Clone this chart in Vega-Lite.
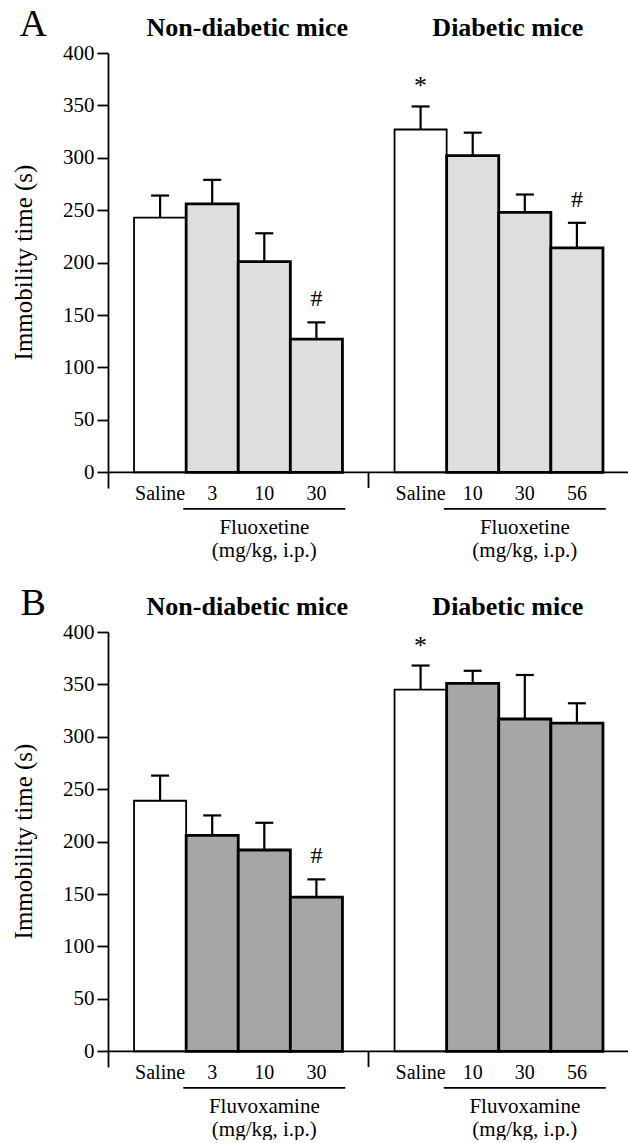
{
  "$schema": "https://vega.github.io/schema/vega-lite/v6.json",
  "background": "white",
  "padding": {"left": 11, "top": 5, "right": 0, "bottom": 0},
  "spacing": 23,
  "config": {
    "font": "Liberation Serif",
    "view": {"stroke": null},
    "axis": {"labelFont": "Liberation Serif", "titleFont": "Liberation Serif", "labelColor": "black", "titleColor": "black", "domainColor": "black", "tickColor": "black", "grid": false},
    "text": {"font": "Liberation Serif", "color": "black"}
  },
  "datasets": {
    "bars": [
      {"panel": "A", "group": "Non-diabetic", "treatment": "Saline", "key": "ND Saline", "mean": 243, "upper": 264, "sig": ""},
      {"panel": "A", "group": "Non-diabetic", "treatment": "Fluoxetine", "key": "ND 3", "mean": 256, "upper": 279, "sig": ""},
      {"panel": "A", "group": "Non-diabetic", "treatment": "Fluoxetine", "key": "ND 10", "mean": 201, "upper": 228, "sig": ""},
      {"panel": "A", "group": "Non-diabetic", "treatment": "Fluoxetine", "key": "ND 30", "mean": 127, "upper": 143, "sig": "#"},
      {"panel": "A", "group": "Diabetic", "treatment": "Saline", "key": "D Saline", "mean": 327, "upper": 349, "sig": "*"},
      {"panel": "A", "group": "Diabetic", "treatment": "Fluoxetine", "key": "D 10", "mean": 302, "upper": 324, "sig": ""},
      {"panel": "A", "group": "Diabetic", "treatment": "Fluoxetine", "key": "D 30", "mean": 248, "upper": 265, "sig": ""},
      {"panel": "A", "group": "Diabetic", "treatment": "Fluoxetine", "key": "D 56", "mean": 214, "upper": 238, "sig": "#"},
      {"panel": "B", "group": "Non-diabetic", "treatment": "Saline", "key": "ND Saline", "mean": 239, "upper": 263, "sig": ""},
      {"panel": "B", "group": "Non-diabetic", "treatment": "Fluvoxamine", "key": "ND 3", "mean": 206, "upper": 225, "sig": ""},
      {"panel": "B", "group": "Non-diabetic", "treatment": "Fluvoxamine", "key": "ND 10", "mean": 192, "upper": 218, "sig": ""},
      {"panel": "B", "group": "Non-diabetic", "treatment": "Fluvoxamine", "key": "ND 30", "mean": 147, "upper": 164, "sig": "#"},
      {"panel": "B", "group": "Diabetic", "treatment": "Saline", "key": "D Saline", "mean": 345, "upper": 368, "sig": "*"},
      {"panel": "B", "group": "Diabetic", "treatment": "Fluvoxamine", "key": "D 10", "mean": 351, "upper": 363, "sig": ""},
      {"panel": "B", "group": "Diabetic", "treatment": "Fluvoxamine", "key": "D 30", "mean": 317, "upper": 359, "sig": ""},
      {"panel": "B", "group": "Diabetic", "treatment": "Fluvoxamine", "key": "D 56", "mean": 313, "upper": 332, "sig": ""}
    ],
    "groups": [
      {"panel": "A", "title": "Non-diabetic mice", "drug": "Fluoxetine", "unit": "(mg/kg, i.p.)", "center": "ND 10"},
      {"panel": "A", "title": "Diabetic mice", "drug": "Fluoxetine", "unit": "(mg/kg, i.p.)", "center": "D 30"},
      {"panel": "B", "title": "Non-diabetic mice", "drug": "Fluvoxamine", "unit": "(mg/kg, i.p.)", "center": "ND 10"},
      {"panel": "B", "title": "Diabetic mice", "drug": "Fluvoxamine", "unit": "(mg/kg, i.p.)", "center": "D 30"}
    ]
  },
  "vconcat": [
    {
      "width": 521,
      "height": 435,
      "layer": [
        {
          "data": {"name": "bars"},
          "transform": [{"filter": "datum.panel === 'A'"}],
          "mark": {"type": "bar", "stroke": "black"},
          "encoding": {
            "x": {"field": "key", "type": "nominal", "scale": {"type": "band", "domain": ["ND Saline", "ND 3", "ND 10", "ND 30", "gap", "D Saline", "D 10", "D 30", "D 56"], "paddingInner": 0, "paddingOuter": 0.5}, "axis": {"title": null, "domain": false, "ticks": false, "labelAngle": 0, "labelFont": "Liberation Serif", "labelFontSize": 20, "labelBaseline": "middle", "labelPadding": 5, "labelExpr": "datum.value === 'gap' ? '' : split(datum.value, ' ')[1]"}},
            "y": {"field": "mean", "type": "quantitative", "scale": {"domain": [-15, 400], "nice": false, "zero": false}, "axis": {"title": "Immobility time (s)", "values": [0, 50, 100, 150, 200, 250, 300, 350, 400], "labelFont": "Liberation Serif", "titleFont": "Liberation Serif", "labelFontSize": 21, "titleFontSize": 25, "titleFontWeight": "normal", "titleY": 209, "tickSize": 11, "labelPadding": 3, "titlePadding": 26, "domainWidth": 1.8, "tickWidth": 1.8}},
            "fill": {"field": "treatment", "type": "nominal", "scale": {"domain": ["Saline", "Fluoxetine", "Fluvoxamine"], "range": ["white", "#dedede", "#a6a6a6"]}, "legend": null},
            "strokeWidth": {"condition": {"test": "datum.treatment === 'Saline'", "value": 1.8}, "value": 2.8}
          }
        },
        {
          "data": {"values": [{}]},
          "mark": {"type": "rule", "strokeWidth": 1.8, "color": "black"},
          "encoding": {"y": {"datum": 0, "type": "quantitative"}}
        },
        {
          "data": {"values": [{"key": "gap"}]},
          "mark": {"type": "rule", "strokeWidth": 1.8, "color": "black"},
          "encoding": {"x": {"field": "key", "type": "nominal"}, "y": {"datum": 0, "type": "quantitative"}, "y2": {"datum": -15}}
        },
        {
          "data": {"name": "bars"},
          "transform": [{"filter": "datum.panel === 'A'"}],
          "mark": {"type": "rule", "strokeWidth": 2.2, "color": "black"},
          "encoding": {"x": {"field": "key", "type": "nominal"}, "y": {"field": "mean", "type": "quantitative"}, "y2": {"field": "upper"}}
        },
        {
          "data": {"name": "bars"},
          "transform": [{"filter": "datum.panel === 'A'"}],
          "mark": {"type": "tick", "thickness": 2.2, "size": 18, "color": "black", "opacity": 1},
          "encoding": {"x": {"field": "key", "type": "nominal"}, "y": {"field": "upper", "type": "quantitative"}}
        },
        {
          "data": {"name": "bars"},
          "transform": [{"filter": "datum.panel === 'A' && datum.sig === '*'"}],
          "mark": {"type": "text", "fontSize": 26, "baseline": "alphabetic", "dy": -12},
          "encoding": {"x": {"field": "key", "type": "nominal"}, "y": {"field": "upper", "type": "quantitative"}, "text": {"field": "sig"}}
        },
        {
          "data": {"name": "bars"},
          "transform": [{"filter": "datum.panel === 'A' && datum.sig === '#'"}],
          "mark": {"type": "text", "fontSize": 24, "baseline": "alphabetic", "dy": -16},
          "encoding": {"x": {"field": "key", "type": "nominal"}, "y": {"field": "upper", "type": "quantitative"}, "text": {"field": "sig"}}
        },
        {
          "data": {"name": "groups"},
          "transform": [{"filter": "datum.panel === 'A'"}],
          "mark": {"type": "tick", "thickness": 1.8, "size": 162, "color": "black", "opacity": 1},
          "encoding": {"x": {"field": "center", "type": "nominal"}, "y": {"datum": -35, "type": "quantitative"}}
        },
        {
          "data": {"name": "groups"},
          "transform": [{"filter": "datum.panel === 'A'"}],
          "mark": {"type": "text", "fontSize": 21, "baseline": "middle"},
          "encoding": {"x": {"field": "center", "type": "nominal"}, "y": {"datum": -53, "type": "quantitative"}, "text": {"field": "drug"}}
        },
        {
          "data": {"name": "groups"},
          "transform": [{"filter": "datum.panel === 'A'"}],
          "mark": {"type": "text", "fontSize": 21, "baseline": "middle"},
          "encoding": {"x": {"field": "center", "type": "nominal"}, "y": {"datum": -75, "type": "quantitative"}, "text": {"field": "unit"}}
        },
        {
          "data": {"name": "groups"},
          "transform": [{"filter": "datum.panel === 'A'"}],
          "mark": {"type": "text", "fontSize": 26, "fontWeight": "bold", "baseline": "middle", "dx": -17},
          "encoding": {"x": {"field": "center", "type": "nominal"}, "y": {"datum": 424, "type": "quantitative"}, "text": {"field": "title"}}
        },
        {
          "data": {"values": [{"letter": "A"}]},
          "mark": {"type": "text", "fontSize": 38, "baseline": "middle", "dx": -127},
          "encoding": {"x": {"datum": "ND Saline", "type": "nominal"}, "y": {"datum": 427, "type": "quantitative"}, "text": {"field": "letter"}}
        }
      ]
    },
    {
      "width": 521,
      "height": 435,
      "layer": [
        {
          "data": {"name": "bars"},
          "transform": [{"filter": "datum.panel === 'B'"}],
          "mark": {"type": "bar", "stroke": "black"},
          "encoding": {
            "x": {"field": "key", "type": "nominal", "scale": {"type": "band", "domain": ["ND Saline", "ND 3", "ND 10", "ND 30", "gap", "D Saline", "D 10", "D 30", "D 56"], "paddingInner": 0, "paddingOuter": 0.5}, "axis": {"title": null, "domain": false, "ticks": false, "labelAngle": 0, "labelFont": "Liberation Serif", "labelFontSize": 20, "labelBaseline": "middle", "labelPadding": 5, "labelExpr": "datum.value === 'gap' ? '' : split(datum.value, ' ')[1]"}},
            "y": {"field": "mean", "type": "quantitative", "scale": {"domain": [-15, 400], "nice": false, "zero": false}, "axis": {"title": "Immobility time (s)", "values": [0, 50, 100, 150, 200, 250, 300, 350, 400], "labelFont": "Liberation Serif", "titleFont": "Liberation Serif", "labelFontSize": 21, "titleFontSize": 25, "titleFontWeight": "normal", "titleY": 209, "tickSize": 11, "labelPadding": 3, "titlePadding": 26, "domainWidth": 1.8, "tickWidth": 1.8}},
            "fill": {"field": "treatment", "type": "nominal", "scale": {"domain": ["Saline", "Fluoxetine", "Fluvoxamine"], "range": ["white", "#dedede", "#a6a6a6"]}, "legend": null},
            "strokeWidth": {"condition": {"test": "datum.treatment === 'Saline'", "value": 1.8}, "value": 2.8}
          }
        },
        {
          "data": {"values": [{}]},
          "mark": {"type": "rule", "strokeWidth": 1.8, "color": "black"},
          "encoding": {"y": {"datum": 0, "type": "quantitative"}}
        },
        {
          "data": {"values": [{"key": "gap"}]},
          "mark": {"type": "rule", "strokeWidth": 1.8, "color": "black"},
          "encoding": {"x": {"field": "key", "type": "nominal"}, "y": {"datum": 0, "type": "quantitative"}, "y2": {"datum": -15}}
        },
        {
          "data": {"name": "bars"},
          "transform": [{"filter": "datum.panel === 'B'"}],
          "mark": {"type": "rule", "strokeWidth": 2.2, "color": "black"},
          "encoding": {"x": {"field": "key", "type": "nominal"}, "y": {"field": "mean", "type": "quantitative"}, "y2": {"field": "upper"}}
        },
        {
          "data": {"name": "bars"},
          "transform": [{"filter": "datum.panel === 'B'"}],
          "mark": {"type": "tick", "thickness": 2.2, "size": 18, "color": "black", "opacity": 1},
          "encoding": {"x": {"field": "key", "type": "nominal"}, "y": {"field": "upper", "type": "quantitative"}}
        },
        {
          "data": {"name": "bars"},
          "transform": [{"filter": "datum.panel === 'B' && datum.sig === '*'"}],
          "mark": {"type": "text", "fontSize": 26, "baseline": "alphabetic", "dy": -12},
          "encoding": {"x": {"field": "key", "type": "nominal"}, "y": {"field": "upper", "type": "quantitative"}, "text": {"field": "sig"}}
        },
        {
          "data": {"name": "bars"},
          "transform": [{"filter": "datum.panel === 'B' && datum.sig === '#'"}],
          "mark": {"type": "text", "fontSize": 24, "baseline": "alphabetic", "dy": -16},
          "encoding": {"x": {"field": "key", "type": "nominal"}, "y": {"field": "upper", "type": "quantitative"}, "text": {"field": "sig"}}
        },
        {
          "data": {"name": "groups"},
          "transform": [{"filter": "datum.panel === 'B'"}],
          "mark": {"type": "tick", "thickness": 1.8, "size": 162, "color": "black", "opacity": 1},
          "encoding": {"x": {"field": "center", "type": "nominal"}, "y": {"datum": -35, "type": "quantitative"}}
        },
        {
          "data": {"name": "groups"},
          "transform": [{"filter": "datum.panel === 'B'"}],
          "mark": {"type": "text", "fontSize": 21, "baseline": "middle"},
          "encoding": {"x": {"field": "center", "type": "nominal"}, "y": {"datum": -53, "type": "quantitative"}, "text": {"field": "drug"}}
        },
        {
          "data": {"name": "groups"},
          "transform": [{"filter": "datum.panel === 'B'"}],
          "mark": {"type": "text", "fontSize": 21, "baseline": "middle"},
          "encoding": {"x": {"field": "center", "type": "nominal"}, "y": {"datum": -75, "type": "quantitative"}, "text": {"field": "unit"}}
        },
        {
          "data": {"name": "groups"},
          "transform": [{"filter": "datum.panel === 'B'"}],
          "mark": {"type": "text", "fontSize": 26, "fontWeight": "bold", "baseline": "middle", "dx": -17},
          "encoding": {"x": {"field": "center", "type": "nominal"}, "y": {"datum": 424, "type": "quantitative"}, "text": {"field": "title"}}
        },
        {
          "data": {"values": [{"letter": "B"}]},
          "mark": {"type": "text", "fontSize": 38, "baseline": "middle", "dx": -127},
          "encoding": {"x": {"datum": "ND Saline", "type": "nominal"}, "y": {"datum": 427, "type": "quantitative"}, "text": {"field": "letter"}}
        }
      ]
    }
  ]
}
